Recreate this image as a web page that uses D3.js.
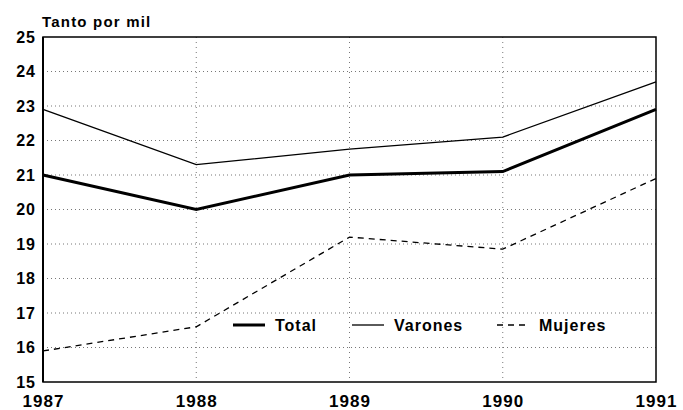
<!DOCTYPE html>
<html>
<head>
<meta charset="utf-8">
<script src="https://cdn.jsdelivr.net/npm/d3@7"></script>
<style>
  body { margin: 0; background: #fff; }
  text { font-family: "Liberation Sans", Arial, sans-serif; font-weight: bold; fill: #000; }
</style>
</head>
<body>
<div id="chart"></div>
<script>
const years = [1987, 1988, 1989, 1990, 1991];
const total = [21.0, 20.0, 21.0, 21.1, 22.9];
const varones = [22.9, 21.3, 21.75, 22.1, 23.7];
const mujeres = [15.9, 16.6, 19.2, 18.85, 20.9];
const yTicks = [15, 16, 17, 18, 19, 20, 21, 22, 23, 24, 25];

const width = 683, height = 410;
const margin = { left: 43, right: 27, top: 37, bottom: 28 };

const svg = d3.select("#chart")
    .append("svg")
    .attr("width", width)
    .attr("height", height);

const x = d3.scaleLinear()
    .domain([1987, 1991])
    .range([margin.left, width - margin.right]);

const y = d3.scaleLinear()
    .domain([15, 25])
    .range([height - margin.bottom, margin.top]);

// dotted grid
svg.append("g")
    .selectAll("line.h")
    .data(yTicks.slice(1, -1))
    .enter()
    .append("line")
    .attr("x1", margin.left)
    .attr("x2", width - margin.right)
    .attr("y1", d => y(d))
    .attr("y2", d => y(d))
    .style("stroke", "#777")
    .style("stroke-width", 1)
    .style("stroke-dasharray", "1,3");

svg.append("g")
    .selectAll("line.v")
    .data(years.slice(1, -1))
    .enter()
    .append("line")
    .attr("x1", d => x(d))
    .attr("x2", d => x(d))
    .attr("y1", margin.top)
    .attr("y2", height - margin.bottom)
    .style("stroke", "#777")
    .style("stroke-width", 1)
    .style("stroke-dasharray", "1,4");

// frame
svg.append("rect")
    .attr("x", margin.left)
    .attr("y", margin.top)
    .attr("width", width - margin.left - margin.right)
    .attr("height", height - margin.top - margin.bottom)
    .style("fill", "none")
    .style("stroke", "#000")
    .style("stroke-width", 1.5);

svg.append("line")
    .attr("x1", margin.left).attr("x2", margin.left)
    .attr("y1", margin.top).attr("y2", height - margin.bottom)
    .style("stroke", "#000")
    .style("stroke-width", 2);

// axes
const yAxis = svg.append("g")
    .attr("transform", `translate(${margin.left},0)`)
    .call(d3.axisLeft(y).tickValues(yTicks).tickSize(0).tickPadding(7));
yAxis.select(".domain").remove();
yAxis.selectAll("text")
    .style("font-size", "16px")
    .style("letter-spacing", "1px")
    .style("font-family", "'Liberation Sans', Arial, sans-serif")
    .style("font-weight", "bold");

const xAxis = svg.append("g")
    .attr("transform", `translate(0,${height - margin.bottom})`)
    .call(d3.axisBottom(x).tickValues(years).tickFormat(d3.format("d")).tickSize(0).tickPadding(13));
xAxis.select(".domain").remove();
xAxis.selectAll("text")
    .style("font-size", "17px")
    .style("letter-spacing", "1px")
    .style("font-family", "'Liberation Sans', Arial, sans-serif")
    .style("font-weight", "bold");

svg.append("text")
    .attr("x", 42)
    .attr("y", 27)
    .text("Tanto por mil")
    .style("font-size", "15px")
    .style("letter-spacing", "1.2px");

// lines
const line = d3.line()
    .x((d, i) => x(years[i]))
    .y(d => y(d));

const series = [
    { name: "Total", values: total, width: 3, dash: null },
    { name: "Varones", values: varones, width: 1.3, dash: null },
    { name: "Mujeres", values: mujeres, width: 1.3, dash: "6,5" }
];

series.forEach(s => {
    svg.append("path")
        .datum(s.values)
        .attr("d", line)
        .style("fill", "none")
        .style("stroke", "#000")
        .style("stroke-width", s.width)
        .style("stroke-dasharray", s.dash);
});

// legend
const legendX = [233, 352, 497];
const legendY = 325;
series.forEach((s, i) => {
    svg.append("line")
        .attr("x1", legendX[i])
        .attr("x2", legendX[i] + 32)
        .attr("y1", legendY)
        .attr("y2", legendY)
        .style("stroke", "#000")
        .style("stroke-width", s.width)
        .style("stroke-dasharray", s.dash);
    svg.append("text")
        .attr("x", legendX[i] + 42)
        .attr("y", legendY + 6)
        .text(s.name)
        .style("font-size", "16px")
        .style("letter-spacing", "1px");
});
</script>
</body>
</html>
